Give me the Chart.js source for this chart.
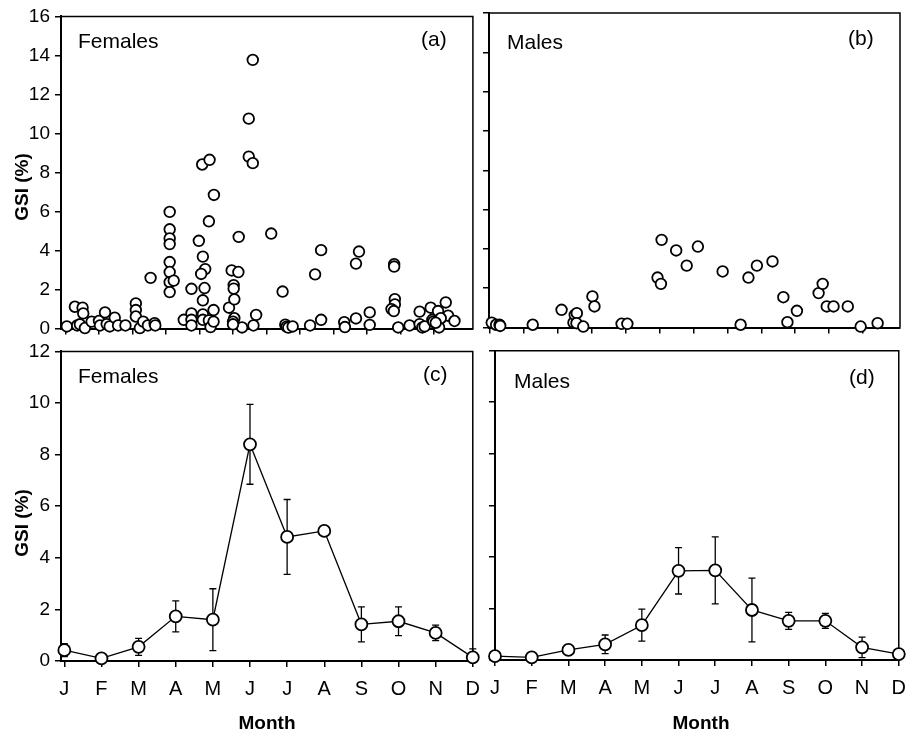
<!DOCTYPE html>
<html><head><meta charset="utf-8">
<script src="https://cdn.jsdelivr.net/npm/chart.js@4.4.0/dist/chart.umd.min.js"></script>
<style>
html,body{margin:0;padding:0;background:#fff;overflow:hidden;width:906px;height:732px;position:relative;}
canvas{position:absolute;}
</style></head><body>
<canvas id="ca" width="480" height="345" style="left:0;top:0"></canvas>
<canvas id="cb" width="436" height="345" style="left:480px;top:0"></canvas>
<canvas id="cc" width="490" height="397" style="left:0;top:335px"></canvas>
<canvas id="cd" width="436" height="397" style="left:480px;top:335px"></canvas>
<script>
// ---- data ----
const monthLabels = ['J','F','M','A','M','J','J','A','S','O','N','D'];
const monthIndex = [0,1,2,3,4,5,6,7,8,9,10,11];
const yearTicks = [0,1,2,3,4,5,6,7,8,9,10,11,12];

const femaleMonth = [0.04,0.28,0.51,0.53,0.35,0.43,0.58,0.78,1.0,1.03,1.18,1.23,1.32,1.47,1.57,1.79,2.1,2.1,2.1,2.22,2.32,2.46,2.66,2.68,2.54,
  3.11,3.11,3.11,3.11,3.11,3.11,3.11,3.11,3.23,3.53,3.76,3.76,3.76,3.76,
  3.98,4.08,4.3,4.43,4.28,4.1,4.17,4.05,4.15,4.1,4.1,4.1,4.28,4.33,4.42,4.42,
  4.88,4.96,5.16,5.02,5.02,5.04,5.04,5.0,5.17,5.27,5.47,5.47,5.59,5.59,5.69,5.61,5.0,
  6.14,6.48,6.56,6.6,6.65,6.78,7.3,7.45,7.63,7.63,
  8.32,8.34,8.67,8.76,8.67,9.08,9.08,
  9.81,9.81,9.83,9.83,9.73,9.8,9.93,
  10.27,10.57,10.57,10.65,10.72,10.9,10.95,11.1,11.12,11.15,11.35,11.42,11.61,10.98,11.2,11.05];
const femaleGSI = [0.11,1.12,1.07,0.78,0.16,0.22,0.03,0.36,0.39,0.16,0.83,0.23,0.11,0.56,0.16,0.16,1.29,0.95,0.62,0.03,0.36,0.16,0.28,0.16,2.6,
  5.98,5.09,4.62,4.33,3.41,2.9,2.38,1.87,2.46,0.45,2.04,0.78,0.45,0.16,
  4.5,8.41,8.65,6.85,5.5,3.69,3.05,2.8,2.08,1.45,0.73,0.45,0.42,0.08,0.95,0.36,
  1.07,2.98,2.9,2.23,2.05,1.5,0.53,0.36,4.7,0.06,10.76,8.81,8.48,13.77,0.7,0.16,0.22,
  4.87,1.9,0.2,0.1,0.05,0.11,0.16,2.78,4.02,0.45,
  0.33,0.08,3.33,3.95,0.52,0.83,0.19,
  3.3,3.18,1.51,1.24,1.0,0.9,0.06,
  0.16,0.87,0.23,0.06,0.11,1.07,0.45,0.16,0.9,0.06,1.34,0.66,0.39,0.36,0.53,0.3];

const maleMonth = [0.05,0.18,0.28,0.3,1.26,2.11,2.46,2.5,2.56,2.55,2.75,3.02,3.08,3.88,4.05,4.94,5.04,5.06,5.49,5.8,6.13,6.86,7.39,7.62,7.87,8.33,8.65,8.77,9.05,9.69,9.81,9.93,10.13,10.55,10.93,11.43];
const maleGSI = [0.25,0.14,0.14,0.08,0.14,0.9,0.25,0.64,0.73,0.22,0.05,1.58,1.07,0.19,0.19,2.54,2.22,4.46,3.92,3.15,4.12,2.85,0.14,2.54,3.15,3.36,1.54,0.27,0.85,1.75,2.22,1.07,1.07,1.07,0.05,0.22];

const femaleMean = [0.42,0.1,0.55,1.73,1.6,8.4,4.81,5.04,1.42,1.54,1.09,0.14];
const femaleSE   = [0.25,0.05,0.33,0.6,1.2,1.55,1.45,0.1,0.68,0.56,0.3,0.33];
const maleMean   = [0.15,0.1,0.39,0.61,1.35,3.46,3.48,1.94,1.52,1.52,0.49,0.23];
const maleSE     = [0.05,0.05,0.12,0.36,0.62,0.9,1.3,1.24,0.33,0.29,0.4,0.05];

// ---- styling helpers ----
const FONT = "'Liberation Sans', Arial, sans-serif";
const gridOpt = {display:true,drawOnChartArea:false,drawTicks:true,tickLength:6,color:'#000',lineWidth:1.5};
const borderOpt = {display:true,color:'#000',width:2};

function xScale(min,max,tickVals,showLabels,h){
  return {type:'linear',min:min,max:max,
    afterBuildTicks:s=>{s.ticks=tickVals.map(v=>({value:v}));},
    afterFit:s=>{s.height=h;},
    grid:gridOpt,border:borderOpt,
    ticks:{display:showLabels,autoSkip:false,maxRotation:0,padding:10,color:'#000',
      font:{family:FONT,size:20},callback:(v,i)=>monthLabels[i]}};
}
function yScale(max,showLabels,w){
  return {type:'linear',min:0,max:max,
    afterFit:s=>{s.width=w;},
    grid:gridOpt,border:borderOpt,
    ticks:{display:showLabels,stepSize:2,padding:5,color:'#000',font:{family:FONT,size:19}}};
}

const framePlugin = {id:'frame',beforeDatasetsDraw(chart){
  const {ctx,chartArea:a}=chart; ctx.save(); ctx.strokeStyle='#000'; ctx.lineWidth=1.5;
  ctx.beginPath(); ctx.moveTo(a.left,a.top); ctx.lineTo(a.right,a.top); ctx.lineTo(a.right,a.bottom); ctx.stroke(); ctx.restore();
}};
const errPlugin = {id:'errBars',beforeDatasetsDraw(chart){
  const {ctx,chartArea:a}=chart; const xs=chart.scales.x, ys=chart.scales.y;
  chart.data.datasets.forEach(ds=>{
    if(!ds.errors) return;
    ctx.save(); ctx.beginPath(); ctx.rect(a.left-10,a.top,a.right-a.left+20,a.bottom-a.top); ctx.clip();
    ctx.strokeStyle='#000'; ctx.lineWidth=1.3;
    ds.data.forEach((p,i)=>{
      const e=ds.errors[i]; const x=xs.getPixelForValue(p.x);
      const y1=ys.getPixelForValue(p.y+e), y2=ys.getPixelForValue(p.y-e);
      ctx.beginPath(); ctx.moveTo(x,y1); ctx.lineTo(x,y2);
      ctx.moveTo(x-3.5,y1); ctx.lineTo(x+3.5,y1); ctx.moveTo(x-3.5,y2); ctx.lineTo(x+3.5,y2); ctx.stroke();
    });
    ctx.restore();
  });
}};
const textPlugin = {id:'texts',afterDraw(chart,args,opts){
  const ctx=chart.ctx;
  (opts.items||[]).forEach(t=>{
    ctx.save(); ctx.font=t.font; ctx.fillStyle='#000';
    ctx.textAlign=t.align||'left'; ctx.textBaseline=t.baseline||'alphabetic';
    ctx.translate(t.x,t.y); if(t.rot) ctx.rotate(t.rot); ctx.fillText(t.text,0,0); ctx.restore();
  });
}};

const plain = "21px "+FONT;
const boldT = "bold 19px "+FONT;

function scatterDs(xs,ys){
  return {type:'scatter',data:xs.map((m,i)=>({x:m,y:ys[i]})),
    pointRadius:5.3,pointBorderWidth:1.8,pointBorderColor:'#000',pointBackgroundColor:'#fff',clip:false,showLine:false};
}
function lineDs(means,se){
  return {type:'line',data:monthIndex.map((m,i)=>({x:m,y:means[i]})),errors:se,
    borderColor:'#000',borderWidth:1.3,tension:0,pointRadius:6,pointBorderWidth:1.8,
    pointBorderColor:'#000',pointBackgroundColor:'#fff',clip:false,fill:false};
}
function make(id,ds,scales,padding,items){
  new Chart(document.getElementById(id),{
    data:{datasets:[ds]},
    options:{responsive:false,animation:false,events:[],
      layout:{padding:padding},
      scales:scales,
      plugins:{legend:{display:false},tooltip:{enabled:false},texts:{items:items}}},
    plugins:[framePlugin,errPlugin,textPlugin]
  });
}

make('ca',scatterDs(femaleMonth,femaleGSI),
  {x:xScale(-0.134,12.16,yearTicks,false,14),y:yScale(16,true,61)},
  {left:0,top:13,right:6,bottom:0},
  [{text:'Females',x:78,y:48,font:plain},{text:'(a)',x:421,y:46,font:plain},
   {text:'GSI (%)',x:28,y:187,font:boldT,rot:-Math.PI/2,align:'center'}]);

make('cb',scatterDs(maleMonth,maleGSI),
  {x:xScale(-0.03,12.09,yearTicks,false,17.5),y:yScale(16,false,9)},
  {left:0,top:13,right:16,bottom:0},
  [{text:'Males',x:27,y:49,font:plain},{text:'(b)',x:368,y:45,font:plain}]);

make('cc',lineDs(femaleMean,femaleSE),
  {x:xScale(-0.09,11,monthIndex,true,71),y:yScale(12,true,61)},
  {left:0,top:14,right:17,bottom:0},
  [{text:'Females',x:78,y:48,font:plain},{text:'(c)',x:423,y:46,font:plain},
   {text:'GSI (%)',x:28,y:188,font:boldT,rot:-Math.PI/2,align:'center'},
   {text:'Month',x:267,y:394,font:boldT,align:'center'}]);

make('cd',lineDs(maleMean,maleSE),
  {x:xScale(0,11,monthIndex,true,72),y:yScale(12,false,9)},
  {left:0,top:15.7,right:15,bottom:0},
  [{text:'Males',x:34,y:53,font:plain},{text:'(d)',x:369,y:49,font:plain},
   {text:'Month',x:221,y:394,font:boldT,align:'center'}]);
</script>
</body></html>
